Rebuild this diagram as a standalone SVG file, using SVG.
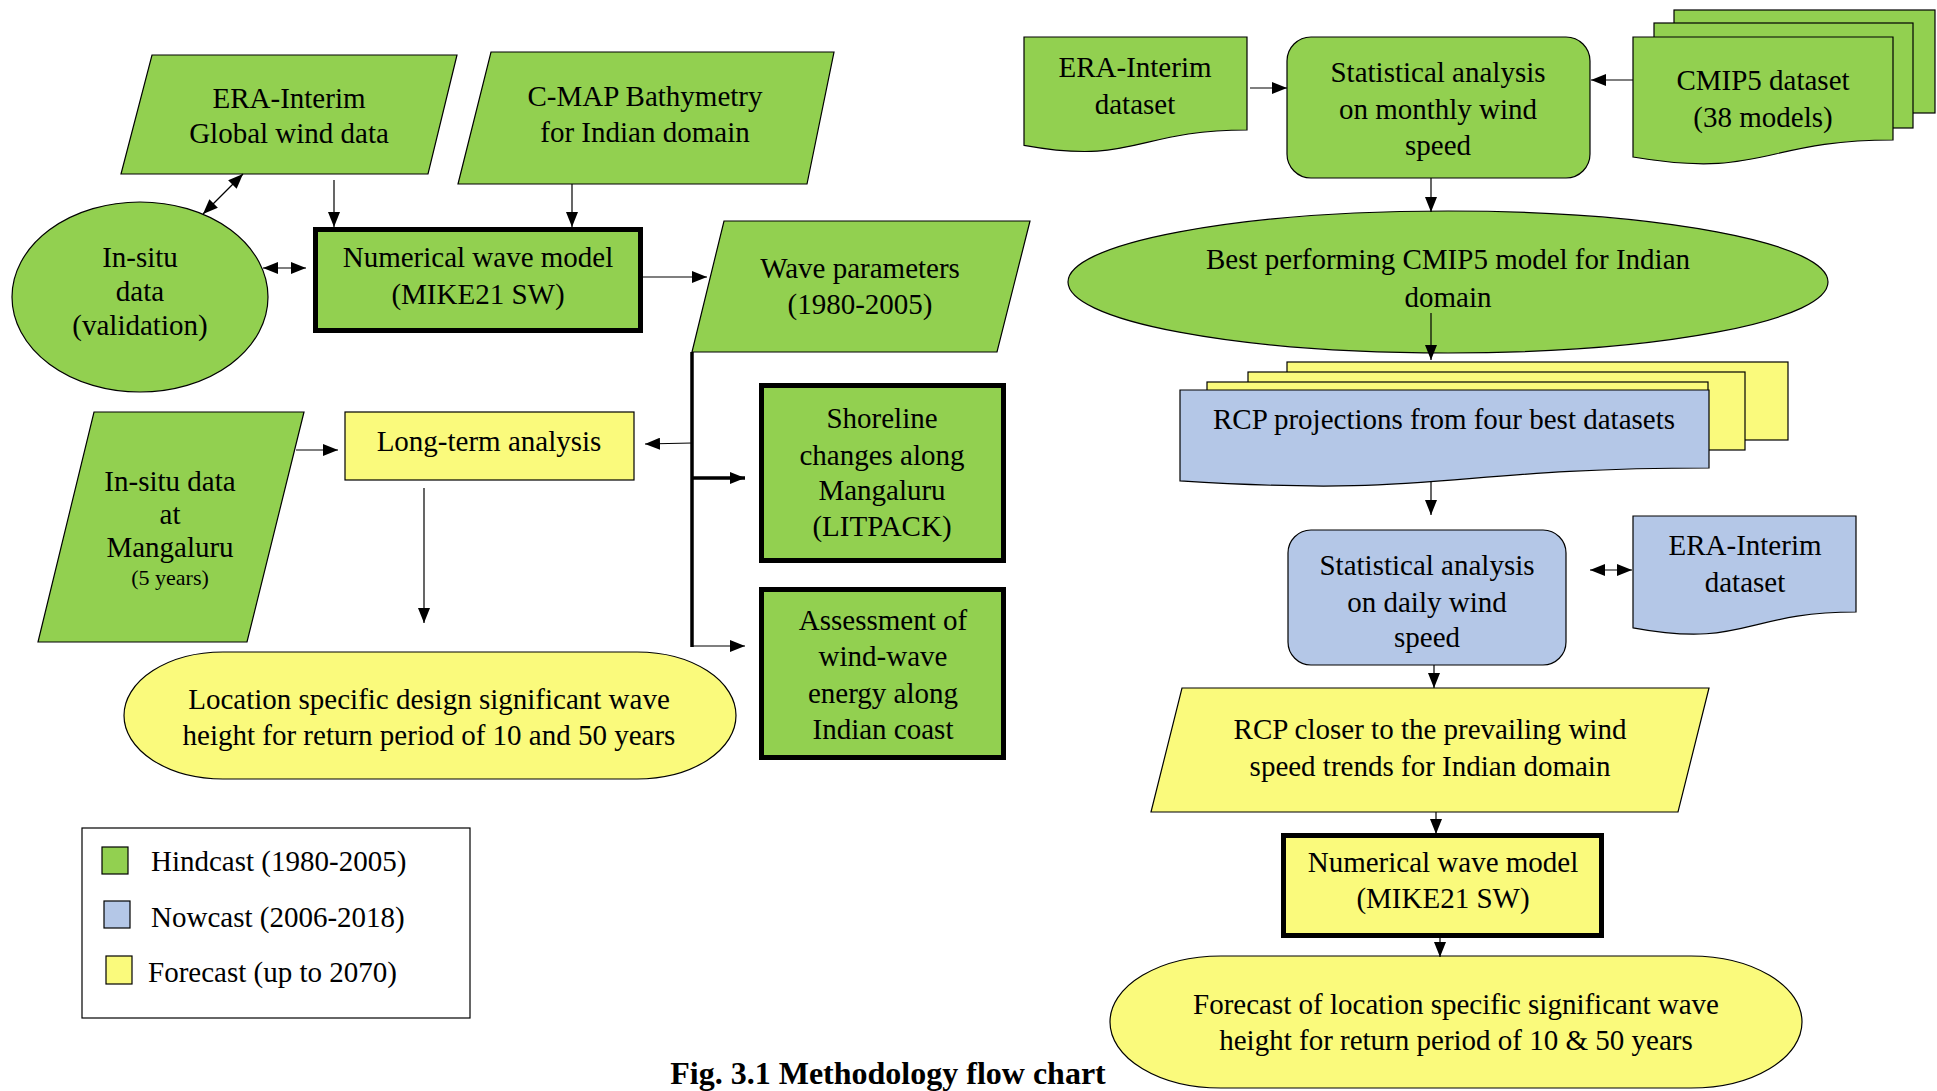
<svg xmlns="http://www.w3.org/2000/svg" width="1937" height="1091" viewBox="0 0 1937 1091">
<defs>
<style>
text{font-family:"Liberation Serif","Times New Roman",serif;font-size:29px;fill:#000;text-anchor:middle}
.g{fill:#92D050;stroke:#000;stroke-width:1.2}
.b{fill:#B4C7E7;stroke:#000;stroke-width:1.2}
.y{fill:#FAFA7C;stroke:#000;stroke-width:1.2}
.thick{stroke-width:5}
.c{fill:none;stroke:#000;stroke-width:1.2}
.ct{fill:none;stroke:#000;stroke-width:3.5}
.small{font-size:22px}
.leg{text-anchor:start}
.cap{font-weight:bold;font-size:32px}
</style>
<marker id="ah" viewBox="0 0 15 12" refX="15" refY="6" markerWidth="15" markerHeight="12" markerUnits="userSpaceOnUse" orient="auto-start-reverse">
<path d="M0,0 L15,6 L0,12 Z" fill="#000"/>
</marker>
</defs>
<rect width="1937" height="1091" fill="#fff"/>

<g id="era-global">
<polygon class="g" points="152,55 457,55 428,174 121,174"/>
<text x="289" y="108">ERA-Interim</text>
<text x="289" y="143">Global wind data</text>
</g>

<g id="cmap">
<polygon class="g" points="491,52 834,52 807,184 458,184"/>
<text x="645" y="106">C-MAP Bathymetry</text>
<text x="645" y="142">for Indian domain</text>
</g>

<g id="insitu-validation">
<ellipse class="g" cx="140" cy="297" rx="128" ry="95"/>
<text x="140" y="267">In-situ</text>
<text x="140" y="301">data</text>
<text x="140" y="335">(validation)</text>
</g>

<g id="nwm-hindcast">
<rect class="g thick" x="315.5" y="229.5" width="325" height="101"/>
<text x="478" y="267">Numerical wave model</text>
<text x="478" y="304">(MIKE21 SW)</text>
</g>

<g id="wave-parameters">
<polygon class="g" points="724,221 1030,221 997,352 692,352"/>
<text x="860" y="278">Wave parameters</text>
<text x="860" y="314">(1980-2005)</text>
</g>

<g id="shoreline">
<rect class="g thick" x="761.5" y="385.5" width="242" height="175"/>
<text x="882" y="428">Shoreline</text>
<text x="882" y="465">changes along</text>
<text x="882" y="500">Mangaluru</text>
<text x="882" y="536">(LITPACK)</text>
</g>

<g id="assessment">
<rect class="g thick" x="761.5" y="589.5" width="242" height="168"/>
<text x="883" y="630">Assessment of</text>
<text x="883" y="666">wind-wave</text>
<text x="883" y="703">energy along</text>
<text x="883" y="739">Indian coast</text>
</g>

<g id="insitu-mangaluru">
<polygon class="g" points="94,412 304,412 247,642 38,642"/>
<text x="170" y="491">In-situ data</text>
<text x="170" y="524">at</text>
<text x="170" y="557">Mangaluru</text>
<text class="small" x="170" y="585">(5 years)</text>
</g>

<g id="long-term">
<rect class="y" x="345" y="412" width="289" height="68"/>
<text x="489" y="451">Long-term analysis</text>
</g>

<g id="location-design">
<rect class="y" x="124" y="652" width="612" height="127" rx="99" ry="63.5"/>
<text x="429" y="709">Location specific design significant wave</text>
<text x="429" y="745">height for return period of 10 and 50 years</text>
</g>

<g id="legend">
<rect x="82" y="828" width="388" height="190" fill="#fff" stroke="#000" stroke-width="1.2"/>
<rect class="g" x="102" y="847" width="26" height="27" stroke-width="1.5"/>
<rect class="b" x="104" y="901" width="26" height="27" stroke-width="1.5"/>
<rect class="y" x="106" y="956" width="26" height="28" stroke-width="1.5"/>
<text class="leg" x="151" y="871">Hindcast (1980-2005)</text>
<text class="leg" x="151" y="927">Nowcast (2006-2018)</text>
<text class="leg" x="148" y="982">Forecast (up to 2070)</text>
</g>

<g id="caption">
<text class="cap" x="888" y="1084">Fig. 3.1 Methodology flow chart</text>
</g>

<g id="era-dataset-green">
<path class="g" d="M1024,37 H1247 V130 C1135.5,130 1135.5,165.5 1024,145.3 Z"/>
<text x="1135" y="77">ERA-Interim</text>
<text x="1135" y="114">dataset</text>
</g>

<g id="stat-monthly">
<rect class="g" x="1287" y="37" width="303" height="141" rx="24" ry="24"/>
<text x="1438" y="82">Statistical analysis</text>
<text x="1438" y="119">on monthly wind</text>
<text x="1438" y="155">speed</text>
</g>

<g id="cmip5">
<rect class="g" x="1674" y="10" width="261" height="103"/>
<rect class="g" x="1654" y="23" width="259" height="105"/>
<path class="g" d="M1633,37 H1893 V140 C1763,140 1763,179.2 1633,157 Z"/>
<text x="1763" y="90">CMIP5 dataset</text>
<text x="1763" y="127">(38 models)</text>
</g>

<g id="best-performing">
<ellipse class="g" cx="1448" cy="282" rx="380" ry="71"/>
<text x="1448" y="269">Best performing CMIP5 model for Indian</text>
<text x="1448" y="307">domain</text>
</g>

<g id="rcp-projections">
<rect class="y" x="1287" y="362" width="501" height="78"/>
<rect class="y" x="1248" y="372" width="497" height="78"/>
<rect class="y" x="1207" y="382" width="501" height="78"/>
<path class="b" d="M1180,390 H1709 V468 C1444.5,468 1444.5,497.7 1180,480.9 Z"/>
<text x="1444" y="429">RCP projections from four best datasets</text>
</g>

<g id="stat-daily">
<rect class="b" x="1288" y="530" width="278" height="135" rx="23" ry="23"/>
<text x="1427" y="575">Statistical analysis</text>
<text x="1427" y="612">on daily wind</text>
<text x="1427" y="647">speed</text>
</g>

<g id="era-dataset-blue">
<path class="b" d="M1633,516 H1856 V612 C1744.5,612 1744.5,648.6 1633,627.8 Z"/>
<text x="1745" y="555">ERA-Interim</text>
<text x="1745" y="592">dataset</text>
</g>

<g id="rcp-closer">
<polygon class="y" points="1182,688 1709,688 1678,812 1151,812"/>
<text x="1430" y="739">RCP closer to the prevailing wind</text>
<text x="1430" y="776">speed trends for Indian domain</text>
</g>

<g id="nwm-forecast">
<rect class="y thick" x="1283.5" y="835.5" width="318" height="100"/>
<text x="1443" y="872">Numerical wave model</text>
<text x="1443" y="908">(MIKE21 SW)</text>
</g>

<g id="forecast-wave-height">
<rect class="y" x="1110" y="956" width="692" height="132" rx="111" ry="66"/>
<text x="1456" y="1014">Forecast of location specific significant wave</text>
<text x="1456" y="1050">height for return period of 10 &amp; 50 years</text>
</g>

<g id="connectors">
<line class="c" x1="243" y1="174" x2="203" y2="214" marker-start="url(#ah)" marker-end="url(#ah)"/>
<line class="c" x1="334" y1="180" x2="334" y2="227" marker-end="url(#ah)"/>
<line class="c" x1="572" y1="184" x2="572" y2="227" marker-end="url(#ah)"/>
<line class="c" x1="263" y1="268" x2="306" y2="268" marker-start="url(#ah)" marker-end="url(#ah)"/>
<line class="c" x1="643" y1="277" x2="707" y2="277" marker-end="url(#ah)"/>
<line class="ct" x1="692" y1="352" x2="692" y2="647"/>
<line class="ct" x1="692" y1="478" x2="745" y2="478" marker-end="url(#ah)"/>
<line class="c" x1="692" y1="646" x2="745" y2="646" marker-end="url(#ah)"/>
<line class="c" x1="692" y1="443" x2="645" y2="444" marker-end="url(#ah)"/>
<line class="c" x1="296" y1="450" x2="338" y2="450" marker-end="url(#ah)"/>
<line class="c" x1="424" y1="488" x2="424" y2="623" marker-end="url(#ah)"/>
<line class="c" x1="1250" y1="88" x2="1287" y2="88" marker-end="url(#ah)"/>
<line class="c" x1="1633" y1="80" x2="1591" y2="80" marker-end="url(#ah)"/>
<line class="c" x1="1431" y1="178" x2="1431" y2="212" marker-end="url(#ah)"/>
<line class="c" x1="1431" y1="313" x2="1431" y2="360" marker-end="url(#ah)"/>
<line class="c" x1="1431" y1="482" x2="1431" y2="515" marker-end="url(#ah)"/>
<line class="c" x1="1590" y1="570" x2="1632" y2="570" marker-start="url(#ah)" marker-end="url(#ah)"/>
<line class="c" x1="1434" y1="665" x2="1434" y2="688" marker-end="url(#ah)"/>
<line class="c" x1="1436" y1="812" x2="1436" y2="834" marker-end="url(#ah)"/>
<line class="c" x1="1440" y1="938" x2="1440" y2="957" marker-end="url(#ah)"/>
</g>
</svg>
